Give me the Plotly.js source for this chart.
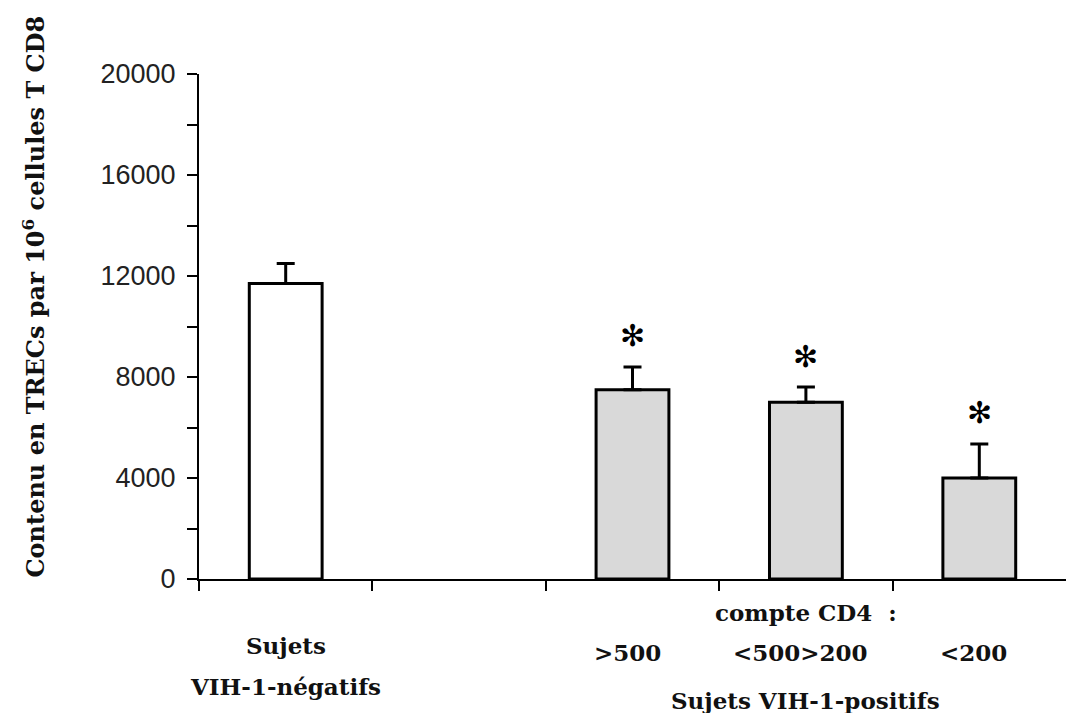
<!DOCTYPE html>
<html>
<head>
<meta charset="utf-8">
<script src="https://cdn.plot.ly/plotly-3.0.1.min.js"></script>
<style>html,body{margin:0;padding:0;background:#fff;}#chart{width:1066px;height:713px;}</style>
</head>
<body>
<div id="chart"></div>
<script>
// ---- data ----
var groups = ["Sujets VIH-1-négatifs", ">500", "<500>200", "<200"];
var slotIndex = [0, 2, 3, 4];            // category slot of each bar (slot 1 is empty)
var values = [11700, 7500, 7000, 4000];
var errorsPlus = [800, 900, 600, 1350];
var significant = [false, true, true, true];
var barColors = ["#ffffff", "#d9d9d9", "#d9d9d9", "#d9d9d9"];
var yTickVals = [0, 4000, 8000, 12000, 16000, 20000];
var yTickText = ["0", "4000", "8000", "12000", "16000", "20000"];
var xBoundaries = [-0.5, 0.5, 1.5, 2.5, 3.5];

var serif = "DejaVu Serif";
var labelFont = {family: serif, size: 23, color: "#111", weight: "bold"};

var trace = {
  type: "bar",
  x: slotIndex,
  y: values,
  width: 0.42,
  marker: {color: barColors, line: {color: "#000", width: 3}},
  error_y: {type: "data", array: errorsPlus, arrayminus: errorsPlus.map(function(){return 0;}),
            symmetric: false, color: "#000", thickness: 3, width: 9},
  hoverinfo: "none"
};

var annotations = [];
// asterisks
for (var i = 0; i < slotIndex.length; i++) {
  if (significant[i]) {
    annotations.push({x: slotIndex[i], y: values[i] + errorsPlus[i], xref: "x", yref: "y",
      text: "✻", showarrow: false, yanchor: "middle", yshift: 31,
      font: {family: "DejaVu Sans", size: 30, color: "#000"}});
  }
}
// category labels
annotations.push({x: slotIndex[0], y: 0, xref: "x", yref: "paper", yshift: -66, yanchor: "middle",
  text: "Sujets", showarrow: false, font: labelFont});
annotations.push({x: slotIndex[0], y: 0, xref: "x", yref: "paper", yshift: -107, yanchor: "middle",
  text: "VIH-1-négatifs", showarrow: false, font: labelFont});
annotations.push({x: slotIndex[2], y: 0, xref: "x", yref: "paper", yshift: -33, yanchor: "middle",
  text: "compte CD4&nbsp; :", showarrow: false, font: labelFont});
var subShift = [0, -5, -5, -6];
for (var j = 1; j < groups.length; j++) {
  annotations.push({x: slotIndex[j], y: 0, xref: "x", yref: "paper", yshift: -73, yanchor: "middle",
    xshift: subShift[j],
    text: groups[j].replace(/</g, "&lt;").replace(/>/g, "&gt;"), showarrow: false, font: labelFont});
}
annotations.push({x: slotIndex[2], y: 0, xref: "x", yref: "paper", yshift: -121, yanchor: "middle",
  text: "Sujets VIH-1-positifs", showarrow: false, font: labelFont});
// y title
annotations.push({x: 0, y: 0.5, xref: "paper", yref: "paper", xshift: -166, yshift: 30,
  xanchor: "center", yanchor: "middle", textangle: -90, showarrow: false,
  text: "Contenu en TRECs par 10<sup>6</sup> cellules T CD8",
  font: {family: serif, size: 24, color: "#111", weight: "bold"}});

var layout = {
  width: 1066, height: 713,
  margin: {l: 199, r: 0, t: 74, b: 134},
  paper_bgcolor: "#fff", plot_bgcolor: "#fff",
  showlegend: false,
  xaxis: {range: [-0.5, 4.5], showgrid: false, zeroline: false, showline: true, linecolor: "#000", linewidth: 2,
          tickmode: "array", tickvals: xBoundaries, showticklabels: false,
          ticks: "outside", ticklen: 10, tickwidth: 2, tickcolor: "#000", fixedrange: true},
  yaxis: {range: [0, 20000], showgrid: false, zeroline: false, showline: true, linecolor: "#000", linewidth: 2,
          tickmode: "array", tickvals: yTickVals, ticktext: yTickText,
          ticks: "outside", ticklen: 10, tickwidth: 2, tickcolor: "#000", ticklabelstandoff: 6,
          minor: {dtick: 2000, ticks: "outside", ticklen: 10, tickwidth: 2, tickcolor: "#000", showgrid: false},
          tickfont: {family: "Liberation Sans", size: 27, color: "#222"}, fixedrange: true},
  annotations: annotations
};

Plotly.newPlot("chart", [trace], layout, {displayModeBar: false, staticPlot: true});
</script>
</body>
</html>
